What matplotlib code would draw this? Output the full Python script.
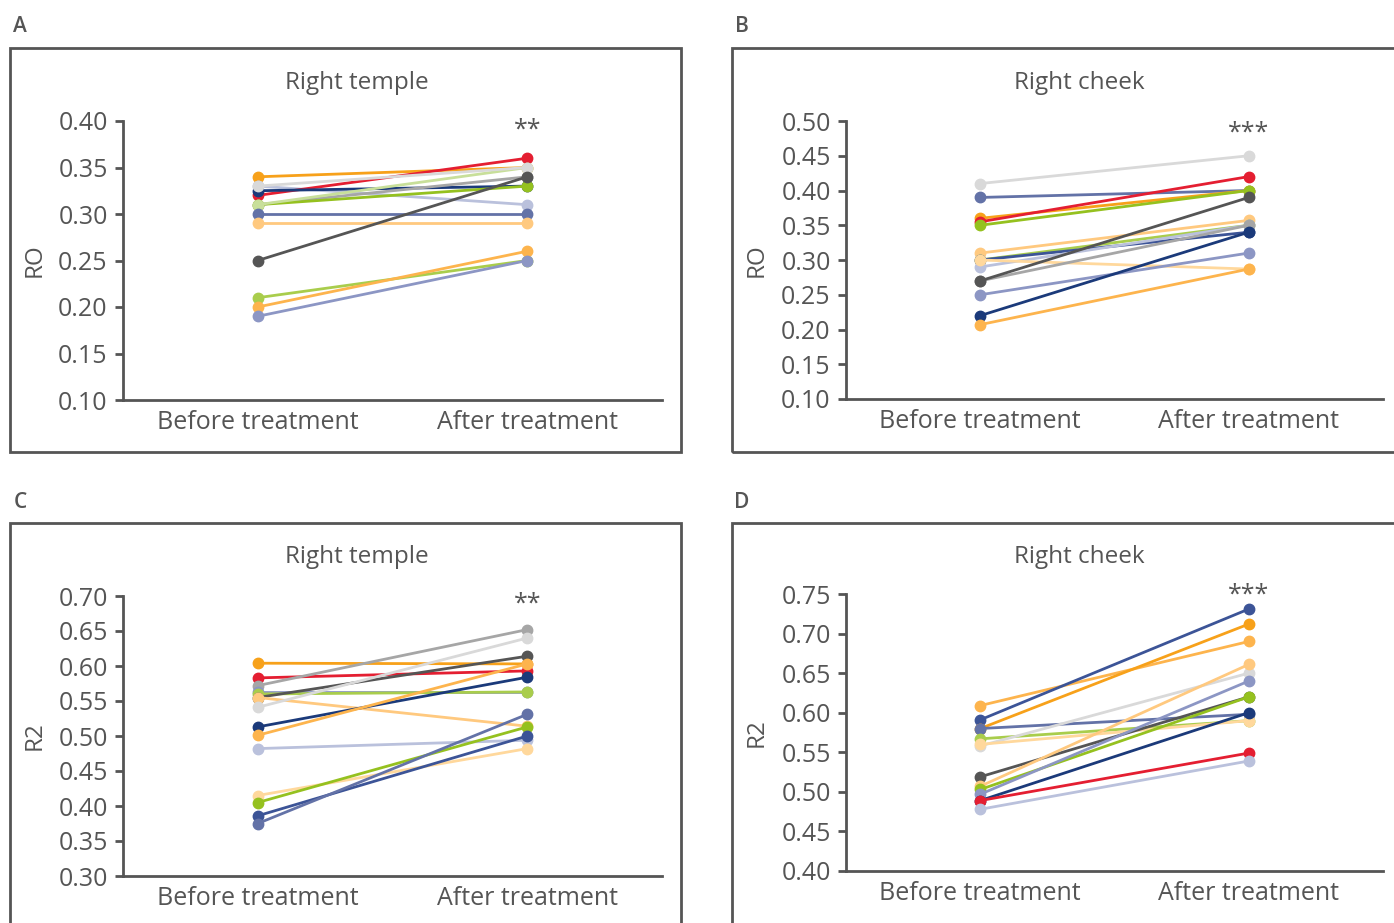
import matplotlib
matplotlib.use("Agg")
import matplotlib.pyplot as plt
from matplotlib.patches import Rectangle
from matplotlib.transforms import blended_transform_factory

plt.rcParams['font.family'] = ['Open Sans', 'DejaVu Sans']

TXT = '#555555'
PAL = {
    'orange': '#F7A11A', 'red': '#E41E31', 'navy': '#1B3A7A', 'dblue': '#3C5497',
    'slate': '#6372A7', 'lav': '#8C96C4', 'llav': '#BAC1DC', 'lime': '#95C11F',
    'ygreen': '#A9CD4C', 'lgreen': '#C8DF9A', 'dgray': '#555555', 'gray': '#A6A6A6',
    'lgray': '#D9D9D9', 'lorange': '#FFC97F', 'orl': '#FDB44D', 'peach': '#FFD89C',
}

categories = ['Before treatment', 'After treatment']

# Panel A: Right temple, RO
a_before = [0.34, 0.33, 0.32, 0.325, 0.31, 0.31, 0.31, 0.33, 0.30, 0.29, 0.25, 0.21, 0.20, 0.19]
a_after = [0.35, 0.31, 0.36, 0.33, 0.34, 0.33, 0.35, 0.35, 0.30, 0.29, 0.34, 0.25, 0.26, 0.25]
a_colors = ['orange', 'llav', 'red', 'navy', 'gray', 'lime', 'lgreen', 'lgray', 'slate',
            'lorange', 'dgray', 'ygreen', 'orl', 'lav']

# Panel B: Right cheek, RO
b_before = [0.41, 0.39, 0.36, 0.355, 0.35, 0.31, 0.30, 0.30, 0.29, 0.30, 0.27, 0.27, 0.25, 0.22, 0.207]
b_after = [0.45, 0.40, 0.40, 0.42, 0.40, 0.357, 0.35, 0.34, 0.35, 0.287, 0.35, 0.39, 0.31, 0.34, 0.287]
b_colors = ['lgray', 'slate', 'orange', 'red', 'lime', 'lorange', 'ygreen', 'dblue', 'llav',
            'peach', 'gray', 'dgray', 'lav', 'navy', 'orl']

# Panel C: Right temple, R2
c_before = [0.604, 0.583, 0.572, 0.563, 0.56, 0.555, 0.555, 0.541, 0.513, 0.501, 0.482,
            0.415, 0.405, 0.386, 0.375]
c_after = [0.603, 0.593, 0.652, 0.563, 0.563, 0.614, 0.514, 0.640, 0.584, 0.603, 0.494,
           0.482, 0.513, 0.500, 0.531]
c_colors = ['orange', 'red', 'gray', 'lav', 'ygreen', 'dgray', 'lorange', 'lgray', 'navy', 'orl',
            'llav', 'peach', 'lime', 'dblue', 'slate']

# Panel D: Right cheek, R2
d_before = [0.609, 0.591, 0.580, 0.580, 0.567, 0.558, 0.560, 0.519, 0.507, 0.503, 0.497,
            0.489, 0.489, 0.478]
d_after = [0.690, 0.731, 0.712, 0.598, 0.590, 0.650, 0.590, 0.620, 0.661, 0.620, 0.640,
           0.600, 0.549, 0.539]
d_colors = ['orl', 'dblue', 'orange', 'slate', 'ygreen', 'lgray', 'peach', 'dgray', 'lorange',
            'lime', 'lav', 'navy', 'red', 'llav']

W, H = 1394, 923
fig = plt.figure(figsize=(W / 100, H / 100), dpi=100)


def fx(px):
    return px / W


def fy(py):
    return 1 - py / H


def panel(letter, box, axbox, title, title_xy, ylabel, ylabel_x, before, after, colors,
          ylim, yticks, stars):
    bx0, by0, bx1, by1 = box
    fig.patches.append(Rectangle((fx(bx0), fy(by1)), fx(bx1 - bx0), (by1 - by0) / H,
                                 transform=fig.transFigure, fill=False,
                                 edgecolor=TXT, linewidth=2.0))
    fig.text(fx(bx0 + 10), fy(box[1] - 21), letter, fontsize=15, color=TXT,
             ha='center', va='center', fontweight='semibold')
    fig.text(fx(title_xy[0]), fy(title_xy[1]), title, fontsize=17.5, color=TXT,
             ha='center', va='center')
    l, t, r, b = axbox
    ax = fig.add_axes([fx(l), fy(b), fx(r - l), (b - t) / H])
    for i in range(len(before)):
        ax.plot([0, 1], [before[i], after[i]], color=PAL[colors[i]], lw=2.0,
                marker='o', markersize=7.5, solid_capstyle='round', zorder=2 + i * 0.01)
    ax.set_xlim(-0.5, 1.5)
    ax.set_ylim(*ylim)
    ax.set_yticks(yticks)
    ax.set_yticklabels([f'{v:.2f}' for v in yticks])
    ax.set_xticks([0, 1])
    ax.set_xticklabels(categories)
    for s in ['top', 'right']:
        ax.spines[s].set_visible(False)
    for s in ['left', 'bottom']:
        ax.spines[s].set_color(TXT)
        ax.spines[s].set_linewidth(2.0)
    ax.tick_params(axis='y', length=6, width=2, color=TXT, labelcolor=TXT,
                   labelsize=18, pad=5)
    ax.tick_params(axis='x', length=0, labelcolor=TXT, labelsize=18, pad=7)
    ax.patch.set_alpha(0)
    fig.text(fx(ylabel_x), fy((t + b) / 2), ylabel, rotation=90, fontsize=17.5, color=TXT,
             ha='center', va='center')
    tr = blended_transform_factory(ax.transData, ax.transAxes)
    ax.text(1.0, 1 - (stars[1] - t) / (b - t), stars[0], transform=tr, ha='center',
            va='center', fontsize=18, color=TXT)
    return ax


panel('A', (10, 48, 681, 452), (123, 121, 662, 400), 'Right temple', (357, 83), 'RO', 35,
      a_before, a_after, a_colors, (0.10, 0.40), [0.10, 0.15, 0.20, 0.25, 0.30, 0.35, 0.40],
      ('**', 130))
panel('B', (732, 48, 1402, 452), (846, 121, 1383, 399), 'Right cheek', (1079, 83), 'RO', 757,
      b_before, b_after, b_colors, (0.10, 0.50),
      [0.10, 0.15, 0.20, 0.25, 0.30, 0.35, 0.40, 0.45, 0.50], ('***', 133))
panel('C', (10, 523, 681, 932), (123, 596, 662, 876), 'Right temple', (357, 557), 'R2', 35,
      c_before, c_after, c_colors, (0.30, 0.70),
      [0.30, 0.35, 0.40, 0.45, 0.50, 0.55, 0.60, 0.65, 0.70], ('**', 604))
panel('D', (732, 523, 1402, 932), (846, 594, 1383, 871), 'Right cheek', (1079, 557), 'R2', 757,
      d_before, d_after, d_colors, (0.40, 0.75),
      [0.40, 0.45, 0.50, 0.55, 0.60, 0.65, 0.70, 0.75], ('***', 595))

fig.savefig('out.png', dpi=100)
